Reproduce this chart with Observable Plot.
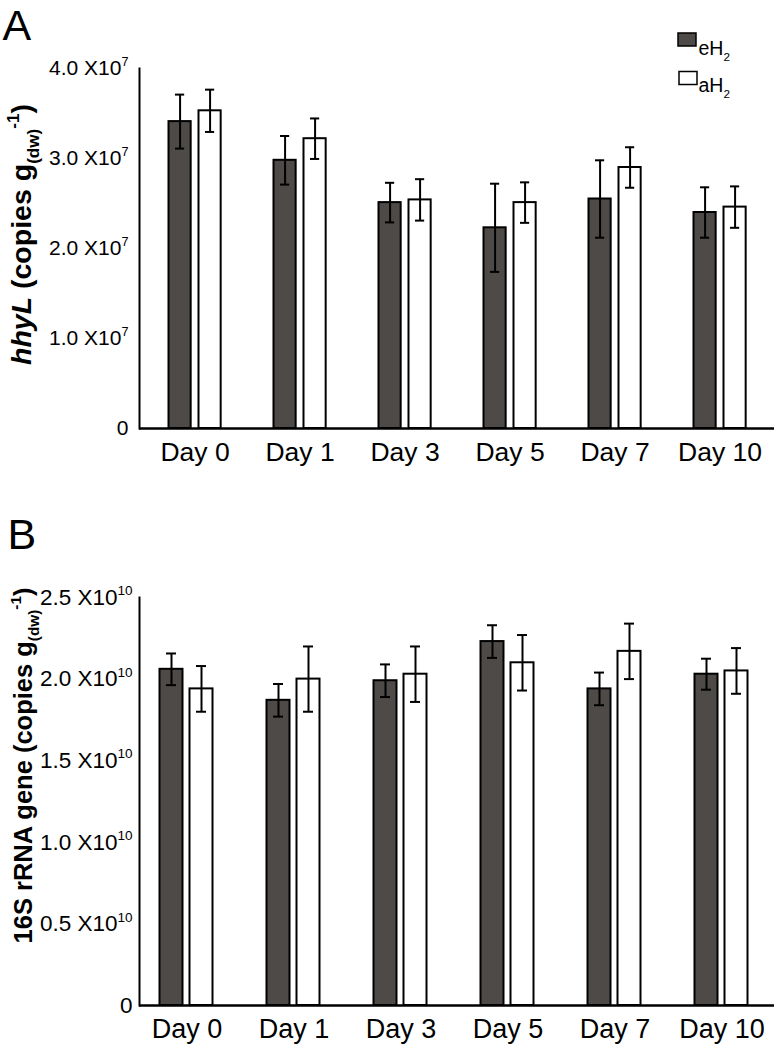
<!DOCTYPE html>
<html><head><meta charset="utf-8">
<script src="https://cdn.jsdelivr.net/npm/d3@7"></script>
<script src="https://cdn.jsdelivr.net/npm/@observablehq/plot@0.6"></script>
<style>
body{margin:0;background:#fff;font-family:"Liberation Sans",Arial,sans-serif;}
#chart svg{display:block;}
</style></head><body><div id="chart"></div>
<script>
// ---- data ----
const days = ["Day 0", "Day 1", "Day 3", "Day 5", "Day 7", "Day 10"];
const seriesNames = ["eH_{2}", "aH_{2}"];

// Panel A: hhyL copies per g dry weight
const hhylE    = [34.1e6, 29.8e6, 25.1e6, 22.3e6, 25.5e6, 24.0e6];
const hhylEerr = [3.0e6, 2.7e6, 2.2e6, 4.9e6, 4.3e6, 2.8e6];
const hhylA    = [35.3e6, 32.2e6, 25.4e6, 25.1e6, 29.0e6, 24.6e6];
const hhylAerr = [2.35e6, 2.25e6, 2.3e6, 2.25e6, 2.25e6, 2.3e6];
const hhylTicks = [0, 1e7, 2e7, 3e7, 4e7];
const hhylTickLabels = ["0", "1.0 X10^{7}", "2.0 X10^{7}", "3.0 X10^{7}", "4.0 X10^{7}"];

// Panel B: 16S rRNA gene copies per g dry weight
const rrnE    = [2.06e10, 1.87e10, 1.99e10, 2.23e10, 1.94e10, 2.03e10];
const rrnEerr = [0.097e10, 0.10e10, 0.10e10, 0.10e10, 0.10e10, 0.095e10];
const rrnA    = [1.94e10, 2.00e10, 2.03e10, 2.10e10, 2.17e10, 2.05e10];
const rrnAerr = [0.14e10, 0.20e10, 0.17e10, 0.17e10, 0.17e10, 0.14e10];
const rrnTicks = [0, 0.5e10, 1.0e10, 1.5e10, 2.0e10, 2.5e10];
const rrnTickLabels = ["0", "0.5 X10^{10}", "1.0 X10^{10}", "1.5 X10^{10}", "2.0 X10^{10}", "2.5 X10^{10}"];

// ---- styling ----
const DARK = "#4d4a47";
const FONT = "'Liberation Sans', Arial, Helvetica, sans-serif";
const legendRect = {draw(ctx) { ctx.rect(-9, -6.5, 18, 13); }};

function panel(cfg) {
  const eData = days.map((d, i) => ({day: d, v: cfg.e[i], err: cfg.eErr[i]}));
  const aData = days.map((d, i) => ({day: d, v: cfg.a[i], err: cfg.aErr[i]}));
  const bw = (cfg.xr[1] - cfg.xr[0]) / days.length;
  const barW = 23, capW = 10;
  const offE = 38 - bw / 2, offA = 68 - bw / 2;
  const binset = (bw - barW) / 2, cinset = (bw - capW) / 2;
  const fl = cfg.marginLeft, ft = cfg.marginTop;
  const errMarks = (data, off) => [
    Plot.ruleX(data, {x: "day", y1: d => d.v - d.err, y2: d => d.v + d.err, dx: off, stroke: "black", strokeWidth: 2}),
    Plot.tickY(data, {x: "day", y: d => d.v + d.err, dx: off, insetLeft: cinset, insetRight: cinset, stroke: "black", strokeWidth: 2}),
    Plot.tickY(data, {x: "day", y: d => d.v - d.err, dx: off, insetLeft: cinset, insetRight: cinset, stroke: "black", strokeWidth: 2})
  ];
  const marks = [
    Plot.barY(eData, {x: "day", y: "v", dx: offE, insetLeft: binset, insetRight: binset, fill: DARK, stroke: "black", strokeWidth: 2}),
    Plot.barY(aData, {x: "day", y: "v", dx: offA, insetLeft: binset, insetRight: binset, fill: "white", stroke: "black", strokeWidth: 2}),
    ...errMarks(eData, offE),
    ...errMarks(aData, offA),
    Plot.ruleY([0], {stroke: "black", strokeWidth: 2.5}),
    Plot.frame({anchor: "left", stroke: "black", strokeWidth: 2}),
    Plot.axisY({ticks: cfg.ticks, tickFormat: d => cfg.tickLabels[cfg.ticks.indexOf(d)], tickSize: 0, tickPadding: cfg.tickPad, fontSize: cfg.tickFont, label: null}),
    Plot.axisX({tickSize: 0, tickPadding: cfg.xPad, fontSize: cfg.xFont, label: null}),
    Plot.text([cfg.ylabel], {frameAnchor: "left", textAnchor: "middle", rotate: -90, dx: cfg.ylabX - fl, dy: cfg.ylabY - (ft + cfg.frameH / 2), fontSize: cfg.ylabFont, fontWeight: "bold"}),
    Plot.text([cfg.letter], {frameAnchor: "top-left", textAnchor: "start", lineAnchor: "top", dx: cfg.letterX - fl, dy: cfg.letterY - ft, fontSize: 43})
  ];
  if (cfg.legend) {
    marks.push(
      Plot.dot([seriesNames[0]], {frameAnchor: "top-left", dx: 686.5 - fl, dy: 39 - ft, symbol: legendRect, fill: DARK, stroke: "black", strokeWidth: 1.5}),
      Plot.dot([seriesNames[1]], {frameAnchor: "top-left", dx: 687.5 - fl, dy: 77.5 - ft, symbol: legendRect, fill: "white", stroke: "black", strokeWidth: 1.5}),
      Plot.text([seriesNames[0]], {frameAnchor: "top-left", textAnchor: "start", dx: 698 - fl, dy: 41 - ft, fontSize: 19.5}),
      Plot.text([seriesNames[1]], {frameAnchor: "top-left", textAnchor: "start", dx: 698 - fl, dy: 78 - ft, fontSize: 19.5})
    );
  }
  return Plot.plot({
    width: 776, height: cfg.height,
    marginLeft: cfg.marginLeft, marginRight: 2, marginTop: cfg.marginTop, marginBottom: cfg.marginBottom,
    style: {fontFamily: FONT, background: "white", color: "black", overflow: "visible"},
    x: {domain: days, range: cfg.xr, padding: 0},
    y: {domain: cfg.ydomain, range: [cfg.marginTop + cfg.frameH, cfg.marginTop]},
    marks
  });
}

const NS = "http://www.w3.org/2000/svg";
function richify(el) {
  const s = el.textContent;
  if (!/\^\{|_\{|\*/.test(s)) return;
  const fs = parseFloat(getComputedStyle(el).fontSize) || 16;
  const parts = s.split(/(\^\{[^}]*\}|_\{[^}]*\}|\*[^*]+\*)/).filter(p => p);
  while (el.firstChild) el.removeChild(el.firstChild);
  let cur = 0;
  for (const p of parts) {
    const t = document.createElementNS(NS, "tspan");
    let txt = p, target = 0;
    if (p.startsWith("^{")) { txt = p.slice(2, -1); target = -0.42 * fs; t.setAttribute("font-size", 0.6 * fs); }
    else if (p.startsWith("_{")) { txt = p.slice(2, -1); target = 0.3 * fs; t.setAttribute("font-size", 0.6 * fs); }
    else if (p.startsWith("*")) { txt = p.slice(1, -1); t.setAttribute("font-style", "italic"); }
    if (target !== cur) t.setAttribute("dy", target - cur);
    cur = target;
    t.textContent = txt;
    el.appendChild(t);
  }
}

const chart = document.getElementById("chart");
const A = panel({
  e: hhylE, eErr: hhylEerr, a: hhylA, aErr: hhylAerr,
  ticks: hhylTicks, tickLabels: hhylTickLabels, ydomain: [0, 4e7],
  height: 500, marginTop: 68, marginBottom: 72, marginLeft: 139, frameH: 360,
  xr: [139, 774], tickPad: 11, tickFont: 21, xPad: 14, xFont: 26.5,
  ylabel: "*hhyL* (copies g_{(dw)}^{-1})", ylabX: 21, ylabY: 234, ylabFont: 28.5,
  letter: "A", letterX: 2, letterY: 9, legend: true
});
const B = panel({
  e: rrnE, eErr: rrnEerr, a: rrnA, aErr: rrnAerr,
  ticks: rrnTicks, tickLabels: rrnTickLabels, ydomain: [0, 2.5e10],
  height: 545, marginTop: 97, marginBottom: 40, marginLeft: 139, frameH: 408,
  xr: [132.5, 774.5], tickPad: 7, tickFont: 22.5, xPad: 13.5, xFont: 27,
  ylabel: "16S rRNA gene (copies g_{(dw)}^{-1})", ylabX: 23, ylabY: 265, ylabFont: 25.5,
  letter: "B", letterX: 7, letterY: 18, legend: false
});
chart.appendChild(A);
chart.appendChild(B);
for (const el of chart.querySelectorAll("text")) richify(el);
</script></body></html>
